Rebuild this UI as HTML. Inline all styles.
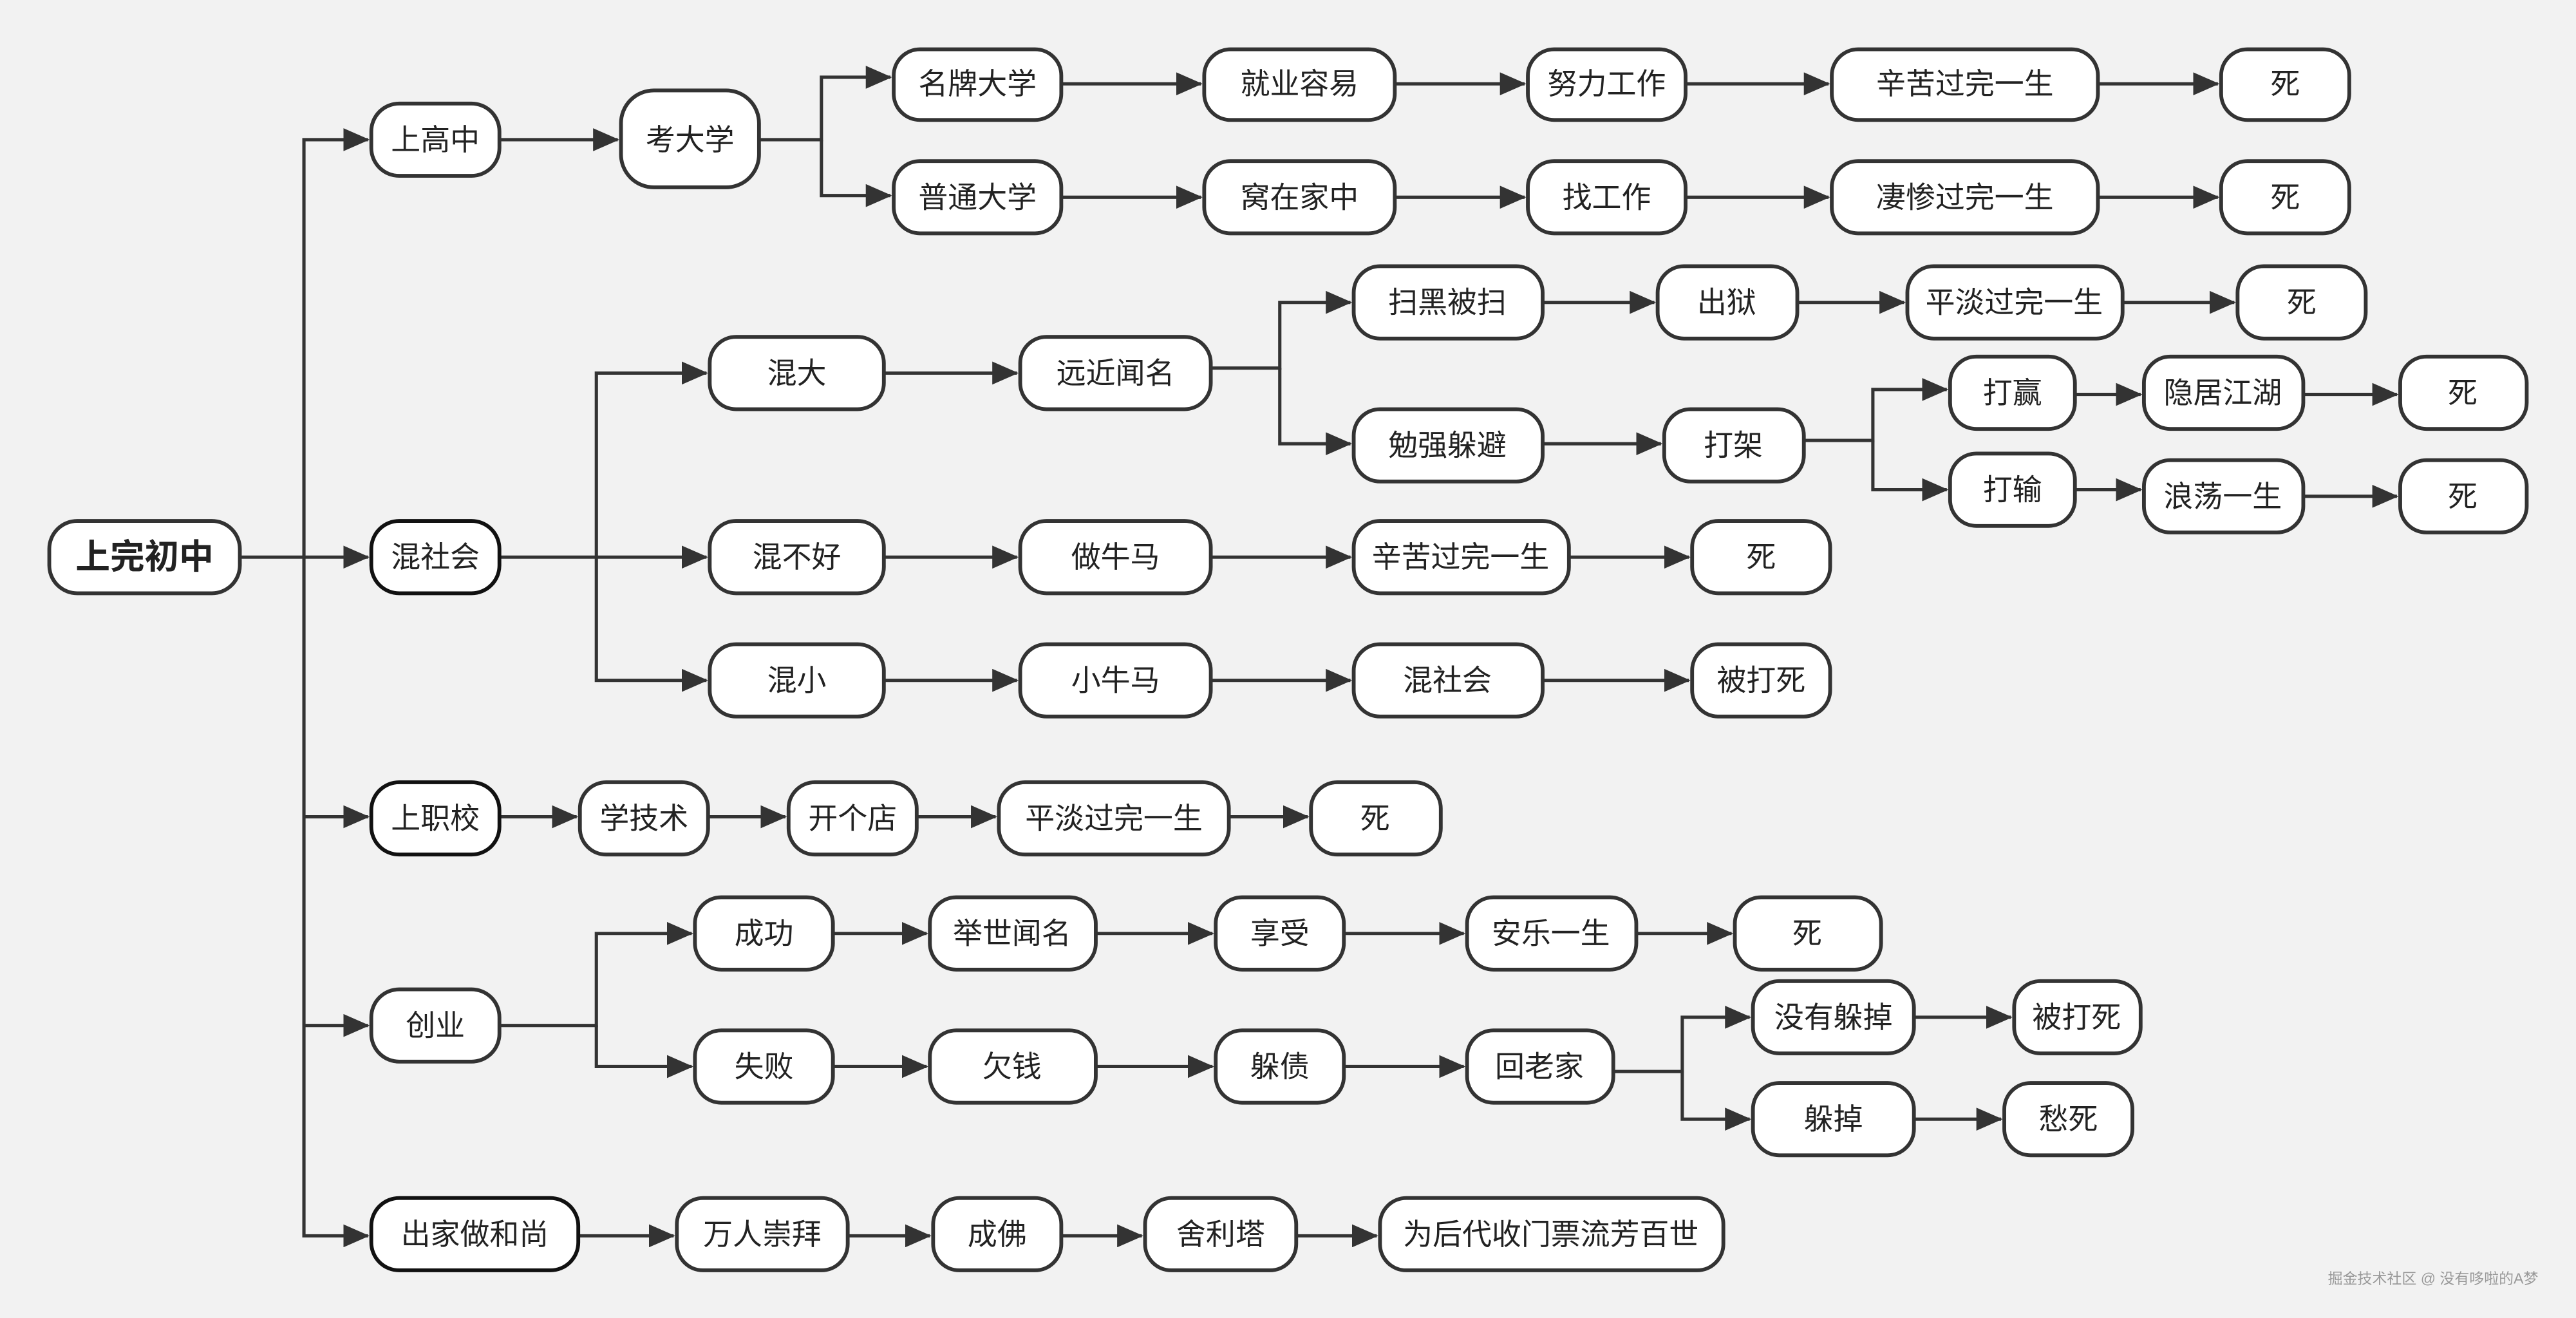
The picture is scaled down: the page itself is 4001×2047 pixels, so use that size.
<!DOCTYPE html>
<html><head><meta charset="utf-8"><style>
html,body{margin:0;padding:0;background:#f2f2f2;}
svg{display:block;}
text{font-family:"Liberation Sans","Noto Sans CJK SC",sans-serif;font-size:18px;fill:#222;text-anchor:middle;dominant-baseline:central;}
rect{fill:#fff;stroke:#333;stroke-width:2.3;}
.l{fill:none;stroke:#333;stroke-width:2;}
</style></head><body>
<svg width="4001" height="2047" viewBox="0 0 1568 802" preserveAspectRatio="none" xmlns="http://www.w3.org/2000/svg">
<defs>
<marker id="b" markerWidth="16" markerHeight="14" refX="15" refY="7" orient="auto" markerUnits="userSpaceOnUse" viewBox="0 0 16 14"><path d="M0,0 L16,7 L0,14 z" fill="#333"/></marker></defs>
<rect x="0" y="0" width="1568" height="802" style="fill:#f2f2f2;stroke:none"/>
<g>
<path class="l" d="M146,339 H224" marker-end="url(#b)"/>
<path class="l" d="M185,339 V85 H224" marker-end="url(#b)"/>
<path class="l" d="M185,339 V497 H224" marker-end="url(#b)"/>
<path class="l" d="M185,497 V624 H224" marker-end="url(#b)"/>
<path class="l" d="M185,624 V752 H224" marker-end="url(#b)"/>
<path class="l" d="M304,85 H376" marker-end="url(#b)"/>
<path class="l" d="M462,85 H500 V47 H542" marker-end="url(#b)"/>
<path class="l" d="M500,85 V119 H542" marker-end="url(#b)"/>
<path class="l" d="M646,51 H731" marker-end="url(#b)"/>
<path class="l" d="M849,51 H928" marker-end="url(#b)"/>
<path class="l" d="M1026,51 H1113" marker-end="url(#b)"/>
<path class="l" d="M1277,51 H1350" marker-end="url(#b)"/>
<path class="l" d="M646,120 H731" marker-end="url(#b)"/>
<path class="l" d="M849,120 H928" marker-end="url(#b)"/>
<path class="l" d="M1026,120 H1113" marker-end="url(#b)"/>
<path class="l" d="M1277,120 H1350" marker-end="url(#b)"/>
<path class="l" d="M304,339 H430" marker-end="url(#b)"/>
<path class="l" d="M363,339 V227 H430" marker-end="url(#b)"/>
<path class="l" d="M363,339 V414 H430" marker-end="url(#b)"/>
<path class="l" d="M538,227 H619" marker-end="url(#b)"/>
<path class="l" d="M737,224 H779 V184 H822" marker-end="url(#b)"/>
<path class="l" d="M779,224 V270 H822" marker-end="url(#b)"/>
<path class="l" d="M939,184 H1007" marker-end="url(#b)"/>
<path class="l" d="M1094,184 H1159" marker-end="url(#b)"/>
<path class="l" d="M1292,184 H1360" marker-end="url(#b)"/>
<path class="l" d="M939,270 H1011" marker-end="url(#b)"/>
<path class="l" d="M1098,268 H1140 V237 H1185" marker-end="url(#b)"/>
<path class="l" d="M1140,268 V298 H1185" marker-end="url(#b)"/>
<path class="l" d="M1263,240 H1303" marker-end="url(#b)"/>
<path class="l" d="M1402,240 H1459" marker-end="url(#b)"/>
<path class="l" d="M1263,298 H1303" marker-end="url(#b)"/>
<path class="l" d="M1402,302 H1459" marker-end="url(#b)"/>
<path class="l" d="M538,339 H619" marker-end="url(#b)"/>
<path class="l" d="M737,339 H822" marker-end="url(#b)"/>
<path class="l" d="M955,339 H1028" marker-end="url(#b)"/>
<path class="l" d="M538,414 H619" marker-end="url(#b)"/>
<path class="l" d="M737,414 H822" marker-end="url(#b)"/>
<path class="l" d="M939,414 H1028" marker-end="url(#b)"/>
<path class="l" d="M304,497 H351" marker-end="url(#b)"/>
<path class="l" d="M431,497 H478" marker-end="url(#b)"/>
<path class="l" d="M558,497 H606" marker-end="url(#b)"/>
<path class="l" d="M748,497 H796" marker-end="url(#b)"/>
<path class="l" d="M304,624 H363 V568 H421" marker-end="url(#b)"/>
<path class="l" d="M363,624 V649 H421" marker-end="url(#b)"/>
<path class="l" d="M507,568 H564" marker-end="url(#b)"/>
<path class="l" d="M667,568 H738" marker-end="url(#b)"/>
<path class="l" d="M818,568 H891" marker-end="url(#b)"/>
<path class="l" d="M996,568 H1054" marker-end="url(#b)"/>
<path class="l" d="M507,649 H564" marker-end="url(#b)"/>
<path class="l" d="M667,649 H738" marker-end="url(#b)"/>
<path class="l" d="M818,649 H891" marker-end="url(#b)"/>
<path class="l" d="M982,652 H1024 V619 H1065" marker-end="url(#b)"/>
<path class="l" d="M1024,652 V681 H1065" marker-end="url(#b)"/>
<path class="l" d="M1165,619 H1224" marker-end="url(#b)"/>
<path class="l" d="M1165,681 H1218" marker-end="url(#b)"/>
<path class="l" d="M352,752 H410" marker-end="url(#b)"/>
<path class="l" d="M516,752 H566" marker-end="url(#b)"/>
<path class="l" d="M646,752 H695" marker-end="url(#b)"/>
<path class="l" d="M789,752 H838" marker-end="url(#b)"/>
</g>
<g>
<rect x="30" y="317" width="116" height="44" rx="17"/><text x="88" y="339" style="font-size:21px;font-weight:bold">上完初中</text>
<rect x="226" y="63" width="78" height="44" rx="17"/><text x="265" y="85">上高中</text>
<rect x="378" y="55" width="84" height="59" rx="20"/><text x="420" y="85">考大学</text>
<rect x="544" y="30" width="102" height="43" rx="16"/><text x="595" y="51">名牌大学</text>
<rect x="544" y="98" width="102" height="44" rx="16"/><text x="595" y="120">普通大学</text>
<rect x="733" y="30" width="116" height="43" rx="16"/><text x="791" y="51">就业容易</text>
<rect x="733" y="98" width="116" height="44" rx="16"/><text x="791" y="120">窝在家中</text>
<rect x="930" y="30" width="96" height="43" rx="16"/><text x="978" y="51">努力工作</text>
<rect x="930" y="98" width="96" height="44" rx="16"/><text x="978" y="120">找工作</text>
<rect x="1115" y="30" width="162" height="43" rx="16"/><text x="1196" y="51">辛苦过完一生</text>
<rect x="1115" y="98" width="162" height="44" rx="16"/><text x="1196" y="120">凄惨过完一生</text>
<rect x="1352" y="30" width="78" height="43" rx="16"/><text x="1391" y="51">死</text>
<rect x="1352" y="98" width="78" height="44" rx="16"/><text x="1391" y="120">死</text>
<rect x="226" y="317" width="78" height="44" rx="17" style="stroke:#111"/><text x="265" y="339">混社会</text>
<rect x="432" y="205" width="106" height="44" rx="16"/><text x="485" y="227">混大</text>
<rect x="621" y="205" width="116" height="44" rx="16"/><text x="679" y="227">远近闻名</text>
<rect x="824" y="162" width="115" height="44" rx="16"/><text x="881" y="184">扫黑被扫</text>
<rect x="1009" y="162" width="85" height="44" rx="16"/><text x="1051" y="184">出狱</text>
<rect x="1161" y="162" width="131" height="44" rx="16"/><text x="1226" y="184">平淡过完一生</text>
<rect x="1362" y="162" width="78" height="44" rx="16"/><text x="1401" y="184">死</text>
<rect x="824" y="249" width="115" height="44" rx="16"/><text x="881" y="271">勉强躲避</text>
<rect x="1013" y="249" width="85" height="44" rx="16"/><text x="1055" y="271">打架</text>
<rect x="1187" y="217" width="76" height="44" rx="16"/><text x="1225" y="239">打赢</text>
<rect x="1305" y="217" width="97" height="44" rx="16"/><text x="1353" y="239">隐居江湖</text>
<rect x="1461" y="217" width="77" height="44" rx="16"/><text x="1499" y="239">死</text>
<rect x="1187" y="276" width="76" height="44" rx="16"/><text x="1225" y="298">打输</text>
<rect x="1305" y="280" width="97" height="44" rx="16"/><text x="1353" y="302">浪荡一生</text>
<rect x="1461" y="280" width="77" height="44" rx="16"/><text x="1499" y="302">死</text>
<rect x="432" y="317" width="106" height="44" rx="16"/><text x="485" y="339">混不好</text>
<rect x="621" y="317" width="116" height="44" rx="16"/><text x="679" y="339">做牛马</text>
<rect x="824" y="317" width="131" height="44" rx="16"/><text x="889" y="339">辛苦过完一生</text>
<rect x="1030" y="317" width="84" height="44" rx="16"/><text x="1072" y="339">死</text>
<rect x="432" y="392" width="106" height="44" rx="16"/><text x="485" y="414">混小</text>
<rect x="621" y="392" width="116" height="44" rx="16"/><text x="679" y="414">小牛马</text>
<rect x="824" y="392" width="115" height="44" rx="16"/><text x="881" y="414">混社会</text>
<rect x="1030" y="392" width="84" height="44" rx="16"/><text x="1072" y="414">被打死</text>
<rect x="226" y="476" width="78" height="44" rx="17" style="stroke:#111"/><text x="265" y="498">上职校</text>
<rect x="353" y="476" width="78" height="44" rx="16"/><text x="392" y="498">学技术</text>
<rect x="480" y="476" width="78" height="44" rx="16"/><text x="519" y="498">开个店</text>
<rect x="608" y="476" width="140" height="44" rx="16"/><text x="678" y="498">平淡过完一生</text>
<rect x="798" y="476" width="79" height="44" rx="16"/><text x="837" y="498">死</text>
<rect x="226" y="602" width="78" height="44" rx="17"/><text x="265" y="624">创业</text>
<rect x="423" y="546" width="84" height="44" rx="16"/><text x="465" y="568">成功</text>
<rect x="566" y="546" width="101" height="44" rx="16"/><text x="616" y="568">举世闻名</text>
<rect x="740" y="546" width="78" height="44" rx="16"/><text x="779" y="568">享受</text>
<rect x="893" y="546" width="103" height="44" rx="16"/><text x="944" y="568">安乐一生</text>
<rect x="1056" y="546" width="89" height="44" rx="16"/><text x="1100" y="568">死</text>
<rect x="423" y="627" width="84" height="44" rx="16"/><text x="465" y="649">失败</text>
<rect x="566" y="627" width="101" height="44" rx="16"/><text x="616" y="649">欠钱</text>
<rect x="740" y="627" width="78" height="44" rx="16"/><text x="779" y="649">躲债</text>
<rect x="893" y="627" width="89" height="44" rx="16"/><text x="937" y="649">回老家</text>
<rect x="1067" y="597" width="98" height="44" rx="16"/><text x="1116" y="619">没有躲掉</text>
<rect x="1226" y="597" width="77" height="44" rx="16"/><text x="1264" y="619">被打死</text>
<rect x="1067" y="659" width="98" height="44" rx="16"/><text x="1116" y="681">躲掉</text>
<rect x="1220" y="659" width="78" height="44" rx="16"/><text x="1259" y="681">愁死</text>
<rect x="226" y="729" width="126" height="44" rx="17" style="stroke:#111"/><text x="289" y="751">出家做和尚</text>
<rect x="412" y="729" width="104" height="44" rx="16"/><text x="464" y="751">万人崇拜</text>
<rect x="568" y="729" width="78" height="44" rx="16"/><text x="607" y="751">成佛</text>
<rect x="697" y="729" width="92" height="44" rx="16"/><text x="743" y="751">舍利塔</text>
<rect x="840" y="729" width="209" height="44" rx="16"/><text x="944" y="751">为后代收门票流芳百世</text>
</g>
<text x="1481" y="778" style="font-size:9px;fill:#999">掘金技术社区 @ 没有哆啦的A梦</text>
</svg>
</body></html>
